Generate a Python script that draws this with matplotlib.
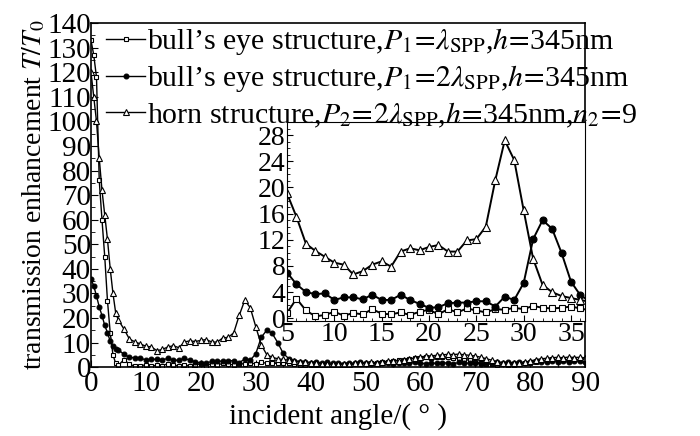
import matplotlib
matplotlib.use("Agg")
import matplotlib.pyplot as plt
from matplotlib.ticker import MultipleLocator

plt.rcParams['font.family'] = ['Liberation Serif', 'DejaVu Serif']
plt.rcParams['mathtext.fontset'] = 'stix'

# incident angle (deg): finer step near normal incidence
angles_head = [0, 0.5, 1, 1.5, 2, 2.5, 3, 3.5, 4, 4.5]
angles = angles_head + list(range(5, 91))

# bull's eye, P1 = lambda_SPP
bull1 = ([133, 127, 118, 76, 60, 45, 27, 14, 5, 1.5] +
         [0.8, 3.0, 1.2, 0.3, 0.5, 1.0, 0.4, 0.8, 0.6, 1.4, 0.7, 0.6, 0.9, 0.5, 1.0, 1.3,
          0.6, 1.4, 0.9, 1.5, 1.2, 0.9, 1.4, 1.3, 1.6, 1.4, 1.9, 1.6, 1.5, 1.6, 1.8] +
         [1.5, 1.2, 1.0, 0.8, 0.9, 0.7, 0.8, 1.0, 0.9, 1.2, 1.0, 1.3, 1.1, 1.5, 1.4,
          1.8, 1.6, 2.0, 2.2, 2.5, 2.8, 3.0, 3.3, 3.6, 3.8, 4.0, 3.9, 4.2, 4.0, 4.1,
          3.8, 3.6, 3.2, 2.7, 2.2, 1.8, 1.4, 1.2, 1.0, 1.1, 0.9, 1.0, 1.2, 1.5, 1.8,
          2.2, 2.6, 2.9, 3.1, 3.0, 3.2, 2.9, 3.1, 3.0, 2.8])

# bull's eye, P1 = 2 lambda_SPP
bull2 = ([36, 33, 29, 24.5, 21, 17, 14, 10.5, 8.5, 7.5] +
         [7.0, 5.2, 4.0, 3.7, 3.8, 2.8, 3.2, 3.2, 2.9, 3.6, 2.8, 2.8, 3.6, 2.8, 2.2, 1.6,
          1.7, 2.3, 2.4, 2.4, 2.6, 2.6, 1.8, 3.3, 2.8, 5.4, 12.1, 15.0, 13.7, 10.0, 5.6] +
         [3.5, 2.6, 2.2, 2.0, 1.8, 2.1, 1.6, 1.9, 1.5, 1.8, 1.4, 1.7, 1.5, 1.9, 1.6,
          1.4, 1.8, 1.5, 1.7, 1.3, 1.6, 1.8, 1.5, 1.9, 1.6, 1.4, 1.7, 1.5, 1.8, 1.6,
          1.4, 1.9, 1.5, 1.7, 1.6, 1.3, 1.8, 1.5, 1.9, 1.6, 2.0, 1.7, 2.1, 1.8, 2.0,
          2.3, 1.9, 2.2, 2.5, 2.1, 2.4, 2.0, 2.3, 2.6, 2.2])

# horn structure, P2 = 2 lambda_SPP, n2 = 9
horn = ([120, 110, 100, 85, 72, 62, 52, 40, 30, 22] +
        [19.1, 15.5, 11.4, 10.3, 9.4, 8.5, 8.2, 6.7, 7.2, 8.2, 8.7, 7.9, 10.2, 10.7, 10.4,
         10.9, 11.2, 10.2, 10.2, 11.9, 12.1, 14.0, 21.1, 27.2, 24.2, 16.5, 9.1, 5.1, 4.0,
         3.4, 3.1] +
        [2.8, 2.5, 2.2, 2.0, 1.8, 1.5, 1.3, 1.2, 1.3, 1.1, 1.4, 1.2, 1.5, 1.7, 1.6,
         2.0, 1.8, 2.2, 2.4, 2.6, 2.5, 3.0, 3.3, 3.8, 4.2, 4.4, 4.6, 4.8, 5.0, 5.2,
         5.1, 5.3, 5.0, 4.8, 4.5, 4.0, 3.4, 2.8, 2.2, 1.8, 1.6, 1.5, 1.6, 2.0, 2.5,
         3.0, 3.4, 3.6, 3.8, 4.0, 3.8, 4.1, 3.9, 4.0, 3.8])

labels = [
    r"bull’s eye structure,$P_1\!=\!\lambda_{\rm SPP}$,$h\!=\!$345nm",
    r"bull’s eye structure,$P_1\!=\!2\lambda_{\rm SPP}$,$h\!=\!$345nm",
    r"horn structure,$P_2\!=\!2\lambda_{\rm SPP}$,$h\!=\!$345nm,$n_2\!=\!$9",
]


def draw_series(ax, ms, lw):
    ax.plot(angles, bull1, color='k', lw=lw, marker='s', ms=ms, mfc='white', mec='k', mew=0.8,
            label=labels[0])
    ax.plot(angles, bull2, color='k', lw=lw, marker='o', ms=ms, mfc='k', mec='k', mew=0.8,
            label=labels[1])
    ax.plot(angles, horn, color='k', lw=lw, marker='^', ms=ms + 1, mfc='white', mec='k', mew=0.8,
            label=labels[2])


fig = plt.figure(figsize=(7, 4.36), dpi=100)
ax = fig.add_axes([0.130, 0.158, 0.706, 0.789])
draw_series(ax, 3.5, 1.0)
ax.set_xlim(0, 90)
ax.set_ylim(0, 140)
ax.xaxis.set_major_locator(MultipleLocator(10))
ax.yaxis.set_major_locator(MultipleLocator(10))
ax.xaxis.set_minor_locator(MultipleLocator(5))
ax.yaxis.set_minor_locator(MultipleLocator(5))
ax.tick_params(which='both', direction='in', top=False, right=False, labelsize=21, pad=0)
ax.tick_params(axis='x', pad=3)
ax.tick_params(which='major', length=5)
ax.tick_params(which='minor', length=3)
for s in ax.spines.values():
    s.set_linewidth(1.2)
ax.set_xlabel("incident angle/( ° )", fontsize=21, labelpad=4)
ax.set_ylabel(r"transmission enhancement $T/T_0$", fontsize=20, labelpad=0)

# inset: zoom on 5-35 deg
axin = fig.add_axes([0.410, 0.264, 0.426, 0.456])
draw_series(axin, 5, 1.4)
axin.set_xlim(5, 36.5)
axin.set_ylim(-0.4, 30)
axin.xaxis.set_major_locator(MultipleLocator(5))
axin.yaxis.set_major_locator(MultipleLocator(4))
axin.xaxis.set_minor_locator(MultipleLocator(1))
axin.yaxis.set_minor_locator(MultipleLocator(1))
axin.tick_params(which='both', direction='in', top=False, right=False, labelsize=20, pad=1)
axin.tick_params(which='major', length=4)
axin.tick_params(which='minor', length=2)

# legend on the figure so it sits above the inset frame
handles, labs = ax.get_legend_handles_labels()
fig.legend(handles, labs, loc='upper left', bbox_to_anchor=(0.134, 0.967), frameon=False,
           fontsize=21.5, handlelength=1.33, handletextpad=0.05, labelspacing=0.2,
           borderaxespad=0)

fig.savefig("out.png", dpi=100)
